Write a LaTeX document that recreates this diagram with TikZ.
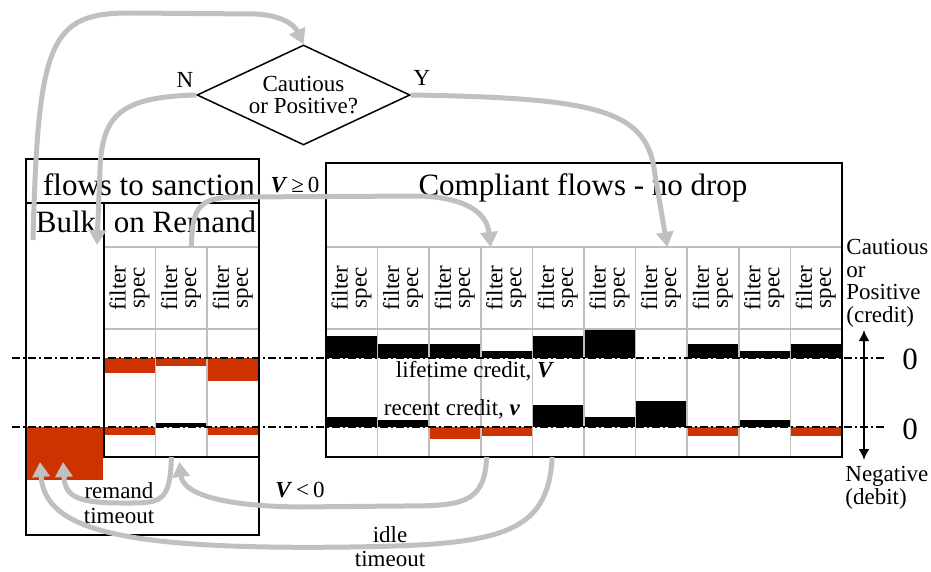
\documentclass[tikz,border=0pt]{standalone}
\usepackage{fontspec}
\setmainfont{Liberation Serif}
\usepackage{graphicx}
\usetikzlibrary{arrows.meta,backgrounds,shapes.geometric,positioning,calc}
\definecolor{flowgrey}{RGB}{192,192,192}
\definecolor{cellgrey}{RGB}{190,190,190}
\definecolor{debit}{RGB}{204,51,0}
\tikzstyle{bigtext} = [font=\fontsize{15.5}{18}\selectfont, inner sep=0pt]
\tikzstyle{smalltext} = [font=\fontsize{11.5}{11.5}\selectfont, inner sep=0pt]
\tikzstyle{box} = [draw=black, line width=1pt, inner sep=0pt]
\tikzstyle{spec} = [draw=cellgrey, line width=0.75pt, minimum width=25.8pt, minimum height=41pt, inner sep=0pt, outer sep=0pt, font=\fontsize{11.5}{9.5}\selectfont]
\tikzstyle{cred} = [draw=cellgrey, line width=0.75pt, minimum width=25.8pt, minimum height=64pt, inner sep=0pt, outer sep=0pt]
\tikzstyle{decision} = [diamond, draw, line width=0.75pt, aspect=2.13, minimum width=106.5pt, minimum height=50pt, inner sep=0pt, align=center, font=\fontsize{11.5}{11}\selectfont]
\tikzstyle{flow} = [draw=flowgrey, line width=2.5pt, -{Triangle[length=7.5pt,width=8.5pt]}]
\tikzstyle{zeroline} = [line width=0.6pt, dash pattern=on 4pt off 1.5pt on 1pt off 1.5pt]
\tikzstyle{creditbar} = [fill=black]
\tikzstyle{debitbar} = [fill=debit]
\tikzstyle{axis} = [line width=1.4pt, {Latex[length=5.5pt,width=5.5pt]}-{Latex[length=5.5pt,width=5.5pt]}]
\newcommand{\filterspec}{\rotatebox{90}{\begin{tabular}{@{}c@{}}filter\\spec\end{tabular}}}

\begin{document}
\begin{tikzpicture}[x=0.5pt, y=-0.5pt]
    \useasboundingbox (0,0) rectangle (931,572);

    % decision
    \node[decision] (decide) at (303.5,95) {Cautious\\or Positive?};
    \node[smalltext] (no) at (185,80) {N};
    \node[smalltext] (yes) at (422,78) {Y};

    % on remand cells
    \node[spec] (rs1) at (129.8,288) {\filterspec};
    \node[spec] (rs2) [right=0pt of rs1] {\filterspec};
    \node[spec] (rs3) [right=0pt of rs2] {\filterspec};
    \node[cred] (rv1) [below=0pt of rs1] {};
    \node[cred] (rv2) [below=0pt of rs2] {};
    \node[cred] (rv3) [below=0pt of rs3] {};

    % compliant cells
    \node[spec] (cs1) at (351.8,288) {\filterspec};
    \node[spec] (cs2) [right=0pt of cs1] {\filterspec};
    \node[spec] (cs3) [right=0pt of cs2] {\filterspec};
    \node[spec] (cs4) [right=0pt of cs3] {\filterspec};
    \node[spec] (cs5) [right=0pt of cs4] {\filterspec};
    \node[spec] (cs6) [right=0pt of cs5] {\filterspec};
    \node[spec] (cs7) [right=0pt of cs6] {\filterspec};
    \node[spec] (cs8) [right=0pt of cs7] {\filterspec};
    \node[spec] (cs9) [right=0pt of cs8] {\filterspec};
    \node[spec] (cs10) [right=0pt of cs9] {\filterspec};
    \node[cred] (cv1) [below=0pt of cs1] {};
    \node[cred] (cv2) [below=0pt of cs2] {};
    \node[cred] (cv3) [below=0pt of cs3] {};
    \node[cred] (cv4) [below=0pt of cs4] {};
    \node[cred] (cv5) [below=0pt of cs5] {};
    \node[cred] (cv6) [below=0pt of cs6] {};
    \node[cred] (cv7) [below=0pt of cs7] {};
    \node[cred] (cv8) [below=0pt of cs8] {};
    \node[cred] (cv9) [below=0pt of cs9] {};
    \node[cred] (cv10) [below=0pt of cs10] {};

    % boxes
    \node[box, minimum width=116.5pt, minimum height=188pt] (sanction) at (142.5,347) {};
    \node[box, minimum width=116.5pt, minimum height=22pt] (sanchead) at (142.5,181) {};
    \node[box, minimum width=77.5pt, minimum height=127pt] (remand) at (181.5,330) {};
    \node[box, minimum width=258pt, minimum height=147pt] (compliant) at (584,310) {};
    \node[bigtext] (sanctxt) at (149,185) {flows to sanction};
    \node[bigtext] (bulktxt) at (66,222) {Bulk};
    \node[bigtext] (remtxt) at (185,222) {on Remand};
    \node[bigtext] (comptxt) at (583,188) {Compliant flows - no drop};

    % credit bars
    \coordinate (zhi) at (12,358);
    \coordinate (zlo) at (12,427);
    \begin{scope}[on background layer]
      \fill[debitbar] (sanction.west |- zlo) rectangle +(78,53);
      \fill[debitbar] (rv1.west |- zhi) rectangle +(51.6,15);
      \fill[debitbar] (rv1.west |- zlo) rectangle +(51.6,8);
      \fill[debitbar] (rv2.west |- zhi) rectangle +(51.6,8);
      \fill[creditbar] (rv2.west |- zlo) rectangle +(51.6,-4);
      \fill[debitbar] (rv3.west |- zhi) rectangle +(51.6,23);
      \fill[debitbar] (rv3.west |- zlo) rectangle +(51.6,8);

      \fill[creditbar] (cv1.west |- zhi) rectangle +(51.6,-22);
      \fill[creditbar] (cv2.west |- zhi) rectangle +(51.6,-14);
      \fill[creditbar] (cv3.west |- zhi) rectangle +(51.6,-14);
      \fill[creditbar] (cv4.west |- zhi) rectangle +(51.6,-7);
      \fill[creditbar] (cv5.west |- zhi) rectangle +(51.6,-22);
      \fill[creditbar] (cv6.west |- zhi) rectangle +(51.6,-29);
      \fill[creditbar] (cv8.west |- zhi) rectangle +(51.6,-14);
      \fill[creditbar] (cv9.west |- zhi) rectangle +(51.6,-7);
      \fill[creditbar] (cv10.west |- zhi) rectangle +(51.6,-14);

      \fill[creditbar] (cv1.west |- zlo) rectangle +(51.6,-10);
      \fill[creditbar] (cv2.west |- zlo) rectangle +(51.6,-7);
      \fill[debitbar] (cv3.west |- zlo) rectangle +(51.6,12);
      \fill[debitbar] (cv4.west |- zlo) rectangle +(51.6,9);
      \fill[creditbar] (cv5.west |- zlo) rectangle +(51.6,-22);
      \fill[creditbar] (cv6.west |- zlo) rectangle +(51.6,-10);
      \fill[creditbar] (cv7.west |- zlo) rectangle +(51.6,-26);
      \fill[debitbar] (cv8.west |- zlo) rectangle +(51.6,9);
      \fill[creditbar] (cv9.west |- zlo) rectangle +(51.6,-7);
      \fill[debitbar] (cv10.west |- zlo) rectangle +(51.6,9);
    \end{scope}
    \draw[zeroline] (zhi) -- +(875,0);
    \draw[zeroline] (zlo) -- +(875,0);

    % labels
    \node[smalltext] (lifetime) at (475,371) {lifetime credit, \textbf{\textit{V}}};
    \node[smalltext] (recent) at (452,409) {recent credit, \textbf{\textit{v}}};
    \node[smalltext] (vpos) at (295,185) {\textbf{\textit{V}}\,≥\,0};
    \node[smalltext] (vneg) at (300,490) {\textbf{\textit{V}}\,<\,0};
    \node[smalltext, align=center, font=\fontsize{11.5}{12.5}\selectfont] (remto) at (119,503) {remand\\timeout};
    \node[smalltext, align=center, font=\fontsize{11.5}{12}\selectfont] (idleto) at (390,547) {idle\\timeout};
    \node[smalltext, anchor=west, align=left, font=\fontsize{11.5}{11.25}\selectfont] (poslab) at (846,283.5) {Cautious\\or\\Positive\\(credit)};
    \node[smalltext, anchor=west, align=left, font=\fontsize{11.5}{11.5}\selectfont] (neglab) at (845,488) {Negative\\(debit)};
    \node[bigtext] (zerohi) at (910,359) {0};
    \node[bigtext] (zerolo) at (910,429) {0};
    \coordinate (axtop) at (864,330);
    \coordinate (axbot) at (864,460);
    \draw[axis] (axtop) -- (axbot);

    % flow arrows
    \coordinate (bulkout) at (33,240);
    \coordinate (bulkin) at (97,245);
    \coordinate (remandend) at (63,462);
    \coordinate (idleend) at (40,462);
    \draw[flow] (bulkout) .. controls (38,40) and (50,13) .. (130,13) -- (255,14) .. controls (280,15) and (294,24) .. (decide.north);
    \draw[flow] (decide.west) .. controls (120,97) and (102,115) .. (100,170) -- (bulkin);
    \draw[flow] (decide.east) .. controls (600,98) and (648,110) .. (655,175) -- ($(cs7.north)+(6,0)$);
    \draw[flow] ($(rs2.north)+(10,0)$) .. controls (192,205) and (200,197) .. (240,197) -- (420,196) .. controls (470,198) and (487,215) .. ($(cs4.north)+(-16,0)$);
    \draw[flow] ($(cv4.south)+(-20,0)$) .. controls (485,505) and (460,506) .. (400,506) -- (300,507) .. controls (215,506) and (183,492) .. ($(rv2.south)+(-2,5)$);
    \draw[flow] ($(rv2.south)+(-10,0)$) .. controls (170,505) and (160,503) .. (120,503) .. controls (75,503) and (65,495) .. (remandend);
    \draw[flow] ($(cv5.south)+(-6,0)$) .. controls (548,535) and (500,545) .. (350,547) .. controls (120,550) and (45,530) .. (idleend);
\end{tikzpicture}
\end{document}
